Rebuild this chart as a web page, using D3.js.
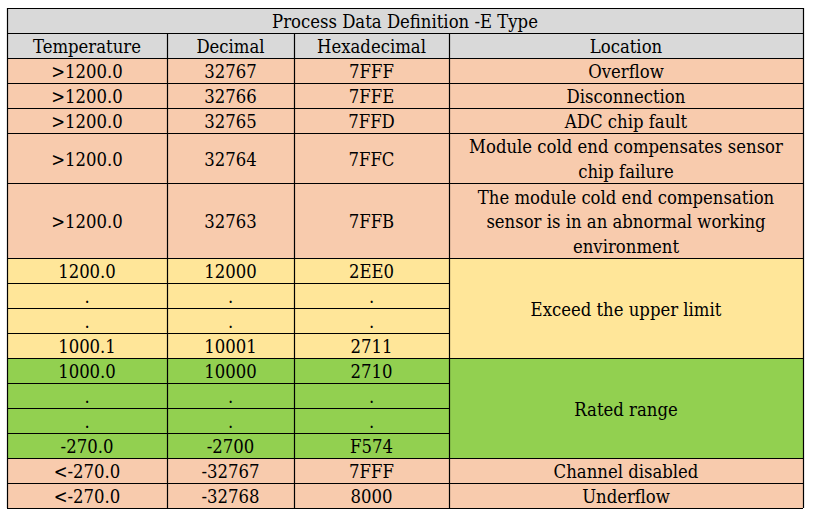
<!doctype html>
<html lang="en">
<head>
    <meta charset="UTF-8">
    <title>Process Data Definition -E Type</title>
    <style>
        body { margin: 0; background: #fff; }
        svg text { font-stretch: condensed; }
    </style>
</head>
<body>
<script src="https://cdn.jsdelivr.net/npm/d3@7"></script>
<script>

    const title = 'Process Data Definition -E Type'
    const headers = ['Temperature', 'Decimal', 'Hexadecimal', 'Location']

    const temperature = ['>1200.0', '>1200.0', '>1200.0', '>1200.0', '>1200.0',
        '1200.0', '.', '.', '1000.1',
        '1000.0', '.', '.', '-270.0',
        '<-270.0', '<-270.0']
    const decimal = ['32767', '32766', '32765', '32764', '32763',
        '12000', '.', '.', '10001',
        '10000', '.', '.', '-2700',
        '-32767', '-32768']
    const hexadecimal = ['7FFF', '7FFE', '7FFD', '7FFC', '7FFB',
        '2EE0', '.', '.', '2711',
        '2710', '.', '.', 'F574',
        '7FFF', '8000']
    // how many text lines each row is tall
    const rowLines = [1, 1, 1, 2, 3, 1, 1, 1, 1, 1, 1, 1, 1, 1, 1]
    const rowGroup = ['fault', 'fault', 'fault', 'fault', 'fault',
        'upper', 'upper', 'upper', 'upper',
        'rated', 'rated', 'rated', 'rated',
        'fault', 'fault']

    // location cells, some of them span several rows
    const locations = [
        {text: ['Overflow'], start: 0, span: 1},
        {text: ['Disconnection'], start: 1, span: 1},
        {text: ['ADC chip fault'], start: 2, span: 1},
        {text: ['Module cold end compensates sensor', 'chip failure'], start: 3, span: 1},
        {text: ['The module cold end compensation', 'sensor is in an abnormal working', 'environment'], start: 4, span: 1},
        {text: ['Exceed the upper limit'], start: 5, span: 4},
        {text: ['Rated range'], start: 9, span: 4},
        {text: ['Channel disabled'], start: 13, span: 1},
        {text: ['Underflow'], start: 14, span: 1},
    ]

    const colors = {head: '#d9d9d9', fault: '#f8cbad', upper: '#ffe699', rated: '#92d050'}

    const W = 816, H = 517
    const tLeft = 7, tRight = 803, tTop = 8, tBottom = 508
    const colEdges = [tLeft, 167, 294, 449, tRight]
    const lineStep = 24.6 // spacing of wrapped text lines
    const textDy = '0.42em'

    const svg = d3.select('body').append('svg')
        .attr('width', W)
        .attr('height', H)
        .attr('font-family', "'DejaVu Serif Condensed', 'DejaVu Serif', serif")
        .attr('font-size', 20)

    // fit the serif font so the longest location line is as wide as in the picture
    const probe = svg.append('text').text('Module cold end compensates sensor')
    const probeW = probe.node().getComputedTextLength()
    probe.remove()
    const fontSize = probeW > 0 ? 20 * 314 / probeW : 18
    svg.attr('font-size', fontSize)

    // vertical scale measured in text lines: title + header + all body rows
    const totalLines = 2 + d3.sum(rowLines)
    const y = d3.scaleLinear().domain([0, totalLines]).range([tTop, tBottom])

    const cum = [2]
    rowLines.forEach(n => cum.push(cum[cum.length - 1] + n))
    const rowTop = i => y(cum[i])
    const rowBottom = i => y(cum[i + 1])

    const g = svg.append('g')

    // title and header
    g.append('rect')
        .attr('x', tLeft).attr('y', y(0))
        .attr('width', tRight - tLeft).attr('height', y(2) - y(0))
        .attr('fill', colors.head)

    g.append('text')
        .attr('x', (tLeft + tRight) / 2).attr('y', (y(0) + y(1)) / 2)
        .attr('text-anchor', 'middle').attr('dy', textDy)
        .text(title)

    g.selectAll('.head')
        .data(headers)
        .enter()
        .append('text')
        .attr('class', 'head')
        .attr('x', (d, i) => (colEdges[i] + colEdges[i + 1]) / 2)
        .attr('y', (y(1) + y(2)) / 2)
        .attr('text-anchor', 'middle').attr('dy', textDy)
        .text(d => d)

    // row backgrounds
    g.selectAll('.bg')
        .data(rowGroup)
        .enter()
        .append('rect')
        .attr('class', 'bg')
        .attr('x', tLeft).attr('y', (d, i) => rowTop(i))
        .attr('width', tRight - tLeft)
        .attr('height', (d, i) => rowBottom(i) - rowTop(i))
        .attr('fill', d => colors[d])

    // first three columns
    const cols = [temperature, decimal, hexadecimal]
    cols.forEach((col, c) => {
        g.selectAll('.c' + c)
            .data(col)
            .enter()
            .append('text')
            .attr('class', 'c' + c)
            .attr('x', (colEdges[c] + colEdges[c + 1]) / 2)
            .attr('y', (d, i) => (rowTop(i) + rowBottom(i)) / 2)
            .attr('text-anchor', 'middle').attr('dy', textDy)
            .text(d => d)
    })

    // location column
    const locX = (colEdges[3] + colEdges[4]) / 2
    locations.forEach(loc => {
        const y0 = rowTop(loc.start), y1 = rowBottom(loc.start + loc.span - 1)
        const mid = (y0 + y1) / 2
        const n = loc.text.length
        loc.text.forEach((t, k) => {
            g.append('text')
                .attr('x', locX)
                .attr('y', mid + (k - (n - 1) / 2) * lineStep)
                .attr('text-anchor', 'middle').attr('dy', textDy)
                .text(t)
        })
    })

    // grid lines
    const stroke = '#000'
    const hLines = [y(0), y(1), y(2)]
    for (let i = 0; i < rowLines.length; i++) hLines.push(rowBottom(i))

    // horizontal lines: skip location column inside merged cells
    const merged = new Set()
    locations.filter(l => l.span > 1).forEach(l => {
        for (let i = l.start; i < l.start + l.span - 1; i++) merged.add(i)
    })

    g.selectAll('.hl')
        .data(hLines)
        .enter()
        .append('line')
        .attr('class', 'hl')
        .attr('x1', tLeft)
        .attr('x2', (d, i) => merged.has(i - 3) ? colEdges[3] : tRight)
        .attr('y1', d => Math.round(d) + 0.5)
        .attr('y2', d => Math.round(d) + 0.5)
        .attr('stroke', stroke).attr('stroke-width', 1.2)

    // vertical lines: outer edges span all, inner ones start under title
    g.selectAll('.vl')
        .data(colEdges)
        .enter()
        .append('line')
        .attr('class', 'vl')
        .attr('x1', d => d + 0.5).attr('x2', d => d + 0.5)
        .attr('y1', (d, i) => (i === 0 || i === colEdges.length - 1) ? y(0) : y(1))
        .attr('y2', tBottom)
        .attr('stroke', stroke).attr('stroke-width', 1.2)

</script>
</body>
</html>
